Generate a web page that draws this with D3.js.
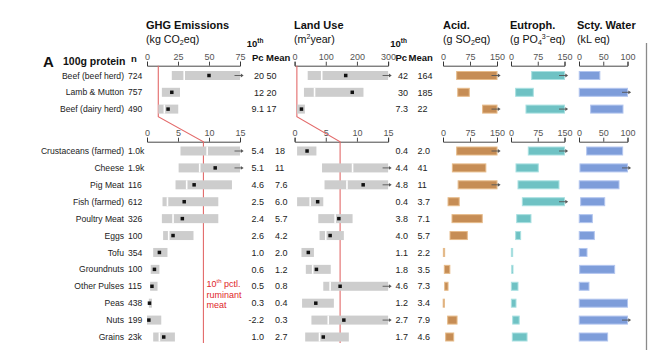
<!DOCTYPE html>
<html><head><meta charset="utf-8">
<script src="https://cdn.jsdelivr.net/npm/d3@7"></script>
<style>
body{margin:0;background:#fff}
svg{display:block}
text{font-family:"Liberation Sans",Arial,Helvetica,sans-serif}
</style>
</head><body>
<svg id="c" width="650" height="350"></svg>
<script>
// ---------- DATA ----------
const topFoods = ["Beef (beef herd)","Lamb & Mutton","Beef (dairy herd)"];
const topN = ["724","757","490"];
const botFoods = ["Crustaceans (farmed)","Cheese","Pig Meat","Fish (farmed)","Poultry Meat","Eggs","Tofu","Groundnuts","Other Pulses","Peas","Nuts","Grains"];
const botN = ["1.0k","1.9k","116","612","326","100","354","100","115","438","199","23k"];

// GHG emissions (kg CO2eq per 100g protein): 10th pctl, median, mean, 90th pctl
const ghgP10   = [20,12,9.1, 5.4,5.1,4.6,2.5,2.4,2.6,1.0,0.6,0.5,0.3,-2.2,1.0];
const ghgMed   = [30,null,14, 9.7,8.5,6.4,3.3,4.2,3.5,null,null,null,null,null,2.0];
const ghgMean  = [50,20,17, 18,11,7.6,6.0,5.7,4.2,2.0,1.2,0.8,0.4,0.3,2.7];
const ghgP90   = [100,26.6,25.2, 40,22,13.7,11.5,11.5,7.5,3.3,2.0,1.7,0.8,2.3,4.5];
const ghgP10Lbl  = ["20","12","9.1","5.4","5.1","4.6","2.5","2.4","2.6","1.0","0.6","0.5","0.3","-2.2","1.0"];
const ghgMeanLbl = ["50","20","17","18","11","7.6","6.0","5.7","4.2","2.0","1.2","0.8","0.4","0.3","2.7"];

// Land use (m2 year)
const landP10  = [42,30,7.3, 0.4,4.4,4.8,0.4,3.8,4.0,1.1,1.8,4.6,1.2,2.7,1.7];
const landMed  = [87,64,null, null,9.3,8.4,2.5,6.5,5.0,null,2.9,5.7,null,5.4,4.0];
const landMean = [164,185,22, 2.0,41,11,3.7,7.1,5.7,2.2,3.5,7.3,3.4,7.9,4.6];
const landP90  = [400,221,33, 3.5,60,20,4.6,9.3,7.9,3.1,5.8,20,6.3,16,8.7];
const landP10Lbl  = ["42","30","7.3","0.4","4.4","4.8","0.4","3.8","4.0","1.1","1.8","4.6","1.2","2.7","1.7"];
const landMeanLbl = ["164","185","22","2.0","41","11","3.7","7.1","5.7","2.2","3.5","7.3","3.4","7.9","4.6"];

// Acidification (g SO2eq), Eutrophication (g PO4eq), Scarcity-weighted water (kL eq): 10th-90th range
const acidLow  = [38,41,110, 38,26,42,14,25,19.5,1,3.7,4.6,0.5,13,7.4];
const acidHigh = [160,73,160, 160,119,160,45,109,67.5,4.6,19,14,4,39,29.7];
const eutLow   = [58,13,42, 48.5,14,19.6,31.8,16,13,1,2,1,1,4.7,3.7];
const eutHigh  = [170,62.5,170, 170,76.5,134.5,170,56,27,4.7,5.6,19.6,14,23,45];
const watLow   = [0.5,0.5,24, 15.8,2,0.5,3.4,0.5,0.5,0.5,1.4,0.5,0.5,0.5,0.5];
const watHigh  = [43,115,90.7, 90,115,82.5,53,27.5,31.6,16.5,73.5,20.6,100,115,59];

const ghgTopTicks = [0,25,50,75], ghgBotTicks = [0,5,10,15];
const landTopTicks = [0,100,200,300], landBotTicks = [0,5,10,15];
const acidTicks = [0,75,150], eutTicks = [0,75,150], watTicks = [0,50,100];
const ruminantGhg = 9.1, ruminantLand = 7.3;

// ---------- LAYOUT ----------
const svg = d3.select("#c");
const FONT = '"Liberation Sans",Arial,Helvetica,sans-serif';
const axTopY = 65.7, axBotY = 141.7;
const topY = d3.scalePoint().domain(topFoods).range([75.5, 109.1]);
const botY = d3.scalePoint().domain(botFoods).range([151, 337]);
const rows = topFoods.map((f,i)=>({name:f,n:topN[i],y:topY(f),sec:0}))
  .concat(botFoods.map((f,i)=>({name:f,n:botN[i],y:botY(f),sec:1})));

const xGhgTop = d3.scaleLinear().domain([0,75]).range([147,240]);
const xGhgBot = d3.scaleLinear().domain([0,15]).range([147,240]);
const xLandTop = d3.scaleLinear().domain([0,300]).range([294.6,388.1]);
const xLandBot = d3.scaleLinear().domain([0,15]).range([294.6,388.1]);
const xAcid = d3.scaleLinear().domain([0,150]).range([443,497]);
const xEut = d3.scaleLinear().domain([0,150]).range([511,564.5]);
const xWat = d3.scaleLinear().domain([0,100]).range([579,627.5]);

function axis(scale, ticks, y){
  const g = svg.append("g").attr("transform",`translate(0,${y})`)
    .call(d3.axisTop(scale).tickValues(ticks).tickSize(4).tickSizeOuter(4).tickPadding(2));
  g.attr("font-family",FONT).attr("font-size",9);
  g.select(".domain").attr("stroke","#333").attr("stroke-width",0.9);
  g.selectAll(".tick line").attr("stroke","#333").attr("stroke-width",0.9);
  g.selectAll(".tick text").attr("fill","#555");
}
axis(xGhgTop, ghgTopTicks, axTopY); axis(xGhgBot, ghgBotTicks, axBotY);
axis(xLandTop, landTopTicks, axTopY); axis(xLandBot, landBotTicks, axBotY);
[[xAcid,acidTicks],[xEut,eutTicks],[xWat,watTicks]].forEach(([s,t])=>{axis(s,t,axTopY);axis(s,t,axBotY);});

// red ruminant reference lines
function redLine(xt, xb, v){
  const p = d3.path();
  p.moveTo(xt(v), axTopY); p.lineTo(xt(v), 116.7);
  p.lineTo(xb(v), axBotY); p.lineTo(xb(v), 343);
  svg.append("path").attr("d",p.toString()).attr("fill","none")
    .attr("stroke","#e36a6a").attr("stroke-width",1.1);
}
redLine(xGhgTop, xGhgBot, ruminantGhg);
redLine(xLandTop, xLandBot, ruminantLand);

function arrow(x, y){
  svg.append("line").attr("x1",x-5.5).attr("x2",x+1.5).attr("y1",y).attr("y2",y)
    .attr("stroke","#555").attr("stroke-width",0.9);
  svg.append("path").attr("d",`M${x+0.8},${y-1.9}L${x+3.6},${y}L${x+0.8},${y+1.9}Z`).attr("fill","#555");
}

const BH = 9;
function grayPanel(xt, xb, p10, med, mean, p90){
  rows.forEach((r,i)=>{
    const x = r.sec===0 ? xt : xb;
    const [d0,d1] = x.domain();
    const lo = Math.max(p10[i], d0), hi = Math.min(p90[i], d1);
    svg.append("rect").attr("x",x(lo)).attr("y",r.y-BH/2).attr("width",Math.max(x(hi)-x(lo),1))
      .attr("height",BH).attr("fill","#cdcdcd");
    if (med[i]!=null && med[i]<=d1)
      svg.append("rect").attr("x",x(med[i])-0.8).attr("y",r.y-BH/2).attr("width",1.6)
        .attr("height",BH).attr("fill","#fff");
    if (mean[i]<=d1)
      svg.append("rect").attr("x",x(mean[i])-1.75).attr("y",r.y-1.75).attr("width",3.5)
        .attr("height",3.5).attr("fill","#111");
    if (p90[i]>d1) arrow(x(d1), r.y);
  });
}
grayPanel(xGhgTop, xGhgBot, ghgP10, ghgMed, ghgMean, ghgP90);
grayPanel(xLandTop, xLandBot, landP10, landMed, landMean, landP90);

function colorPanel(x, lo, hi, fill, stroke){
  const d1 = x.domain()[1];
  rows.forEach((r,i)=>{
    const h = Math.min(hi[i], d1);
    svg.append("rect").attr("x",x(lo[i])).attr("y",r.y-4).attr("width",Math.max(x(h)-x(lo[i]),0.8))
      .attr("height",8).attr("fill",fill).attr("stroke",stroke).attr("stroke-width",1);
    if (hi[i]>d1) arrow(x(d1), r.y);
  });
}
colorPanel(xAcid, acidLow, acidHigh, "#c68d55", "#e6bb8a");
colorPanel(xEut, eutLow, eutHigh, "#6fc2c4", "#a9e0e1");
colorPanel(xWat, watLow, watHigh, "#7e9dda", "#b3c6ef");

// ---------- TEXT ----------
function txt(x,y,s,opt={}){
  return svg.append("text").attr("x",x).attr("y",y).text(s)
    .attr("font-size",opt.size||9).attr("font-weight",opt.bold?"bold":null)
    .attr("text-anchor",opt.anchor||"start").attr("fill",opt.fill||"#222");
}
rows.forEach((r,i)=>{
  txt(124, r.y+3.1, r.name, {size:8.6, anchor:"end"});
  txt(128, r.y+3.1, r.n, {size:8.6});
  txt(264, r.y+3.2, ghgP10Lbl[i], {anchor:"end"});
  txt(r.sec===0?266.5:275, r.y+3.2, ghgMeanLbl[i]);
  txt(408, r.y+3.2, landP10Lbl[i], {anchor:"end"});
  txt(417.5, r.y+3.2, landMeanLbl[i]);
});

txt(43, 67, "A", {size:15, bold:true, fill:"#111"});
txt(63, 64.5, "100g protein", {size:10.5, bold:true, fill:"#111"});
txt(131, 61.5, "n", {size:9.5, bold:true, fill:"#111"});

function header(x, title, build){
  txt(x, 29, title, {size:11, bold:true, fill:"#111"});
  const t = svg.append("text").attr("x",x).attr("y",42.5).attr("font-size",10.7).attr("fill","#111");
  build(t);
}
function seg(t, s, mode){
  const ts = t.append("tspan").text(s);
  if (mode==="sub") ts.attr("font-size",7).attr("dy",2.5);
  else if (mode==="sup") ts.attr("font-size",7).attr("dy",-3.8);
  else if (mode==="back") ts.attr("dy",2.5);
  else if (mode==="down") ts.attr("dy",3.8);
  return ts;
}
header(146, "GHG Emissions", t=>{ seg(t,"(kg CO"); seg(t,"2","sub"); seg(t,"eq)","back").attr("dy",-2.5); });
header(294, "Land Use", t=>{ seg(t,"(m"); seg(t,"2","sup"); seg(t,"year)","down"); });
header(443, "Acid.", t=>{ seg(t,"(g SO"); seg(t,"2","sub"); seg(t,"eq)").attr("dy",-2.5); });
header(510, "Eutroph.", t=>{ seg(t,"(g PO"); seg(t,"4","sub"); seg(t,"3−","sup").attr("dy",-6.3); seg(t,"eq)","down"); });
header(577, "Scty. Water", t=>{ seg(t,"(kL eq)"); });

function pcHeader(xr, xm){
  const t = svg.append("text").attr("x",xr).attr("y",47).attr("text-anchor","end")
    .attr("font-size",9.5).attr("font-weight","bold").attr("fill","#111");
  seg(t,"10"); seg(t,"th","sup").attr("font-size",6.5);
  txt(xr, 60.5, "Pc", {size:9.5, bold:true, anchor:"end", fill:"#111"});
  txt(xm, 60.5, "Mean", {size:9.5, bold:true, fill:"#111"});
}
pcHeader(263.5, 266);
pcHeader(407, 408.5);

// red annotation
const red = "#e0262a";
const rt = svg.append("text").attr("x",206.5).attr("y",287).attr("font-size",9).attr("fill",red);
seg(rt,"10"); seg(rt,"th","sup").attr("font-size",6); seg(rt," pctl.").attr("dy",3.8);
txt(206.5, 297.5, "ruminant", {size:9, fill:red});
txt(206.5, 308, "meat", {size:9, fill:red});

// right frame line
svg.append("line").attr("x1",646.5).attr("x2",646.5).attr("y1",43).attr("y2",350)
  .attr("stroke","#8a8a8a").attr("stroke-width",1.3);
</script>
</body></html>
